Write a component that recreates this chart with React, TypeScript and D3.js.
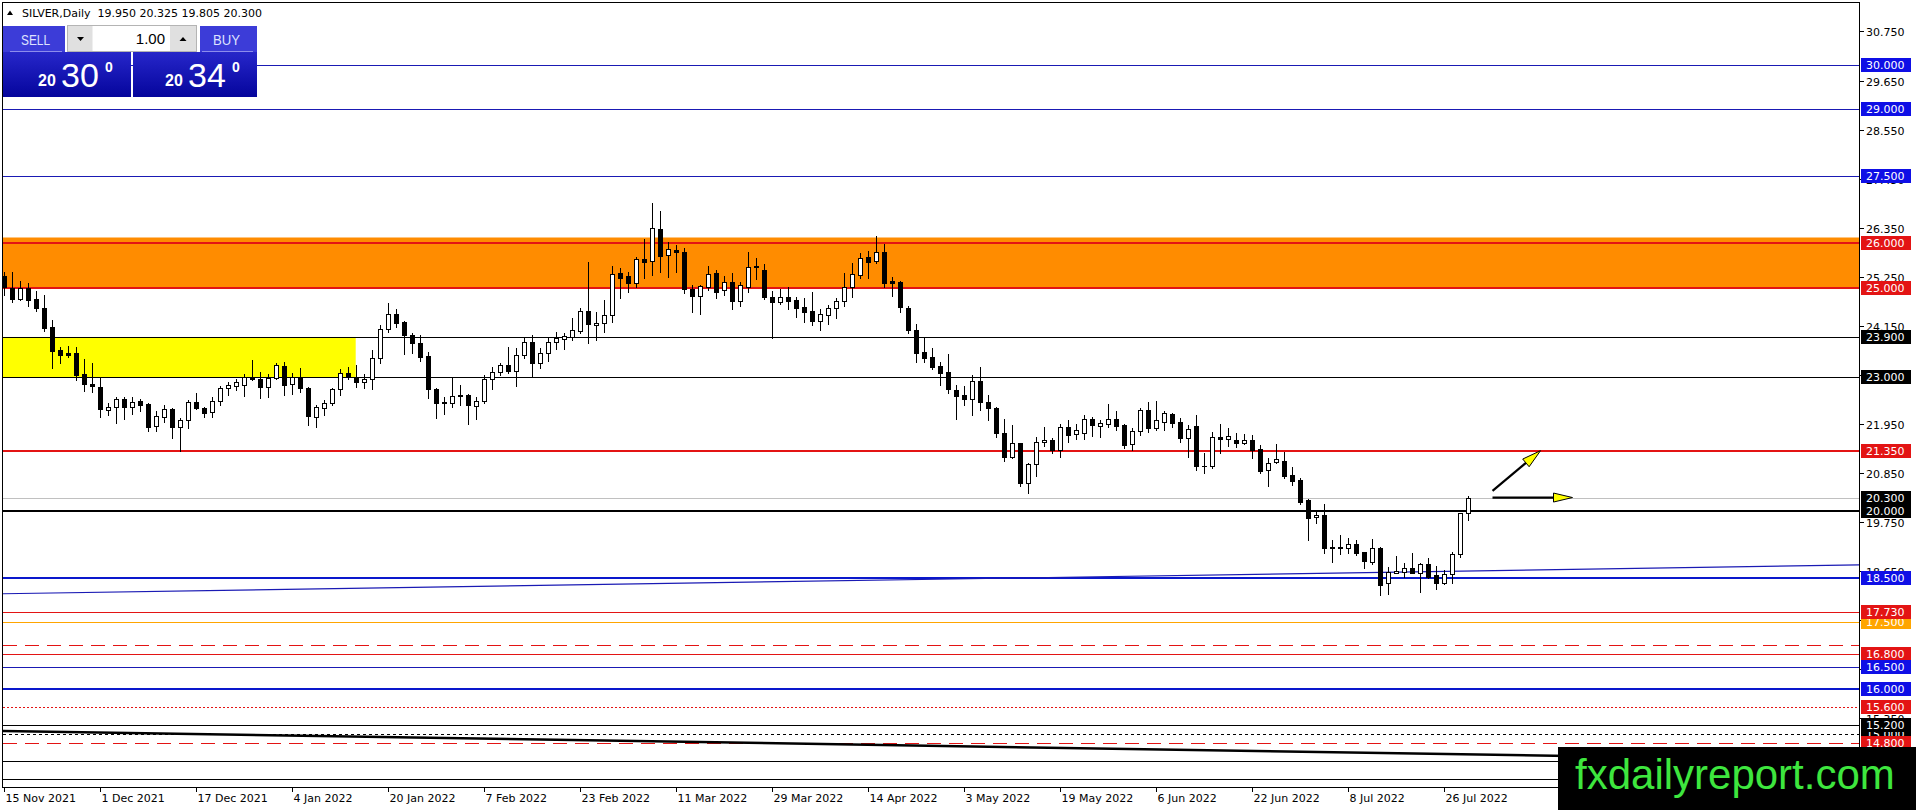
import React, { useEffect, useRef } from 'react';
import * as d3 from 'd3';

const symbol = 'SILVER,Daily';

const opens = [
  25.27, 25.0, 24.75, 25.0, 24.75, 24.55, 24.12, 23.6, 23.54, 23.54,
  23.07, 22.85, 22.78, 22.26, 22.33, 22.51, 22.33, 22.47, 22.4, 21.9,
  22.11, 22.29, 21.88, 22.04, 22.44, 22.31, 22.22, 22.47, 22.76, 22.8,
  22.83, 22.98, 22.96, 22.78, 22.98, 23.25, 22.85, 22.98, 22.76, 22.11,
  22.31, 22.42, 22.74, 23.09, 23.0, 22.89, 22.96, 23.43, 24.08, 24.42,
  24.24, 23.95, 23.77, 23.48, 22.74, 22.44, 22.42, 22.58, 22.6, 22.36,
  22.47, 22.96, 23.12, 23.27, 23.14, 23.5, 23.79, 23.32, 23.54, 23.79,
  23.86, 23.9, 24.04, 24.48, 24.16, 24.22, 24.4, 25.34, 25.27, 25.11,
  25.65, 25.6, 26.32, 25.74, 25.85, 25.81, 24.98, 24.82, 25.02, 25.34,
  24.96, 25.13, 24.71, 25.02, 25.49, 25.4, 24.8, 24.69, 24.8, 24.73,
  24.57, 24.48, 24.26, 24.4, 24.55, 24.71, 25.02, 25.29, 25.7, 25.6,
  25.81, 25.16, 25.13, 24.55, 24.06, 23.56, 23.45, 23.25, 23.12, 22.71,
  22.6, 22.51, 22.91, 22.44, 22.31, 21.75, 21.21, 21.52, 20.63, 21.05,
  21.55, 21.59, 21.37, 21.88, 21.73, 21.75, 22.06, 21.9, 21.95, 22.06,
  21.93, 21.5, 21.79, 22.26, 21.86, 22.0, 22.17, 22.0, 21.64, 21.9,
  21.01, 21.01, 21.66, 21.62, 21.6, 21.52, 21.6, 21.39, 20.92, 21.1,
  21.12, 20.81, 20.7, 20.25, 19.87, 19.91, 19.18, 19.18, 19.17, 19.26,
  19.08, 18.86, 19.17, 18.39, 18.6, 18.63, 18.72, 18.61, 18.81, 18.57,
  18.39, 18.59, 19.04, 19.95,
];

const highs = [
  25.36, 25.36, 25.16, 25.1, 24.93, 24.84, 24.28, 23.68, 23.7, 23.68,
  23.41, 23.32, 23.0, 22.42, 22.56, 22.56, 22.56, 22.51, 22.42, 22.24,
  22.38, 22.31, 22.09, 22.49, 22.65, 22.33, 22.56, 22.8, 22.89, 22.95,
  23.07, 23.39, 23.12, 23.07, 23.32, 23.34, 23.1, 23.21, 22.78, 22.38,
  22.49, 22.76, 23.18, 23.23, 23.27, 23.07, 23.61, 24.17, 24.66, 24.53,
  24.26, 23.99, 23.95, 23.56, 22.76, 22.56, 23.0, 22.83, 22.62, 22.56,
  23.05, 23.23, 23.32, 23.68, 23.65, 23.9, 23.95, 23.65, 23.88, 24.01,
  24.0, 24.33, 24.55, 25.58, 24.46, 24.73, 25.49, 25.45, 25.36, 25.7,
  26.1, 26.91, 26.73, 26.03, 25.96, 25.9, 25.07, 25.07, 25.49, 25.4,
  25.27, 25.34, 25.13, 25.81, 25.67, 25.54, 24.93, 24.98, 25.02, 24.8,
  24.78, 24.91, 24.53, 24.62, 24.78, 25.34, 25.56, 25.78, 25.83, 26.17,
  25.99, 25.25, 25.15, 24.6, 24.2, 23.9, 23.65, 23.34, 23.52, 22.83,
  22.8, 23.05, 23.23, 22.6, 22.33, 22.06, 21.93, 21.52, 21.08, 21.66,
  21.88, 21.64, 21.95, 22.04, 21.95, 22.15, 22.11, 22.04, 22.4, 22.24,
  21.95, 21.86, 22.31, 22.44, 22.47, 22.24, 22.2, 22.08, 21.93, 22.15,
  21.3, 21.77, 21.95, 21.85, 21.75, 21.72, 21.7, 21.48, 21.19, 21.5,
  21.32, 20.99, 20.74, 20.27, 19.98, 20.16, 19.35, 19.46, 19.39, 19.35,
  19.08, 19.37, 19.19, 18.74, 18.99, 18.83, 19.06, 18.83, 18.95, 18.77,
  18.68, 19.08, 19.96, 20.325,
];

const lows = [
  24.84, 24.69, 24.73, 24.6, 24.48, 24.04, 23.2, 23.32, 23.45, 22.94,
  22.69, 22.67, 22.1, 22.15, 21.97, 22.06, 22.17, 22.24, 21.79, 21.79,
  22.0, 21.64, 21.35, 21.86, 22.29, 22.11, 22.11, 22.38, 22.6, 22.7,
  22.58, 22.94, 22.53, 22.56, 22.96, 22.6, 22.62, 22.67, 21.93, 21.88,
  22.15, 22.38, 22.6, 22.96, 22.78, 22.76, 22.74, 23.32, 24.01, 24.12,
  23.52, 23.54, 23.36, 22.53, 22.08, 22.17, 22.33, 22.38, 21.95, 22.06,
  22.42, 22.74, 23.05, 23.09, 22.8, 23.43, 23.0, 23.2, 23.36, 23.63,
  23.63, 23.83, 23.99, 23.77, 23.83, 24.01, 24.24, 24.78, 24.91, 25.02,
  25.22, 25.29, 25.36, 25.25, 25.36, 24.89, 24.46, 24.42, 24.96, 24.78,
  24.84, 24.53, 24.6, 24.91, 25.2, 24.75, 23.88, 24.64, 24.53, 24.35,
  24.24, 24.17, 24.06, 24.19, 24.33, 24.6, 24.8, 25.22, 25.22, 25.56,
  25.02, 24.82, 24.45, 23.99, 23.34, 23.34, 23.18, 22.83, 22.65, 22.06,
  22.38, 22.15, 22.26, 22.04, 21.66, 21.12, 21.19, 20.56, 20.4, 20.78,
  21.46, 21.3, 21.21, 21.55, 21.61, 21.61, 21.68, 21.66, 21.88, 21.82,
  21.41, 21.37, 21.7, 21.77, 21.82, 21.82, 21.88, 21.55, 21.21, 20.92,
  20.85, 20.96, 21.3, 21.45, 21.43, 21.5, 21.19, 20.85, 20.56, 21.08,
  20.74, 20.58, 20.16, 19.35, 19.73, 19.06, 18.86, 19.04, 19.06, 19.01,
  18.72, 18.81, 18.12, 18.14, 18.6, 18.52, 18.61, 18.18, 18.5, 18.25,
  18.36, 18.39, 18.97, 19.805,
];

const closes = [
  25.02, 24.75, 25.0, 24.73, 24.55, 24.1, 23.59, 23.5, 23.5, 23.05,
  22.85, 22.8, 22.29, 22.32, 22.51, 22.33, 22.44, 22.38, 21.88, 22.13,
  22.29, 21.88, 22.04, 22.44, 22.31, 22.2, 22.47, 22.76, 22.83, 22.89,
  23.0, 22.96, 22.78, 22.98, 23.27, 22.83, 23.0, 22.76, 22.13, 22.33,
  22.42, 22.74, 23.09, 23.02, 22.89, 22.96, 23.43, 24.08, 24.42, 24.22,
  23.95, 23.77, 23.45, 22.74, 22.42, 22.42, 22.58, 22.6, 22.38, 22.47,
  22.96, 23.12, 23.27, 23.14, 23.5, 23.79, 23.32, 23.54, 23.79, 23.88,
  23.92, 24.06, 24.48, 24.19, 24.21, 24.4, 25.31, 25.22, 25.11, 25.65,
  25.58, 26.35, 25.72, 25.87, 25.81, 24.98, 24.82, 25.04, 25.31, 24.91,
  25.13, 24.71, 25.07, 25.47, 25.47, 24.8, 24.69, 24.8, 24.71, 24.55,
  24.46, 24.26, 24.42, 24.55, 24.71, 25.02, 25.31, 25.67, 25.58, 25.81,
  25.11, 25.11, 24.57, 24.06, 23.54, 23.43, 23.23, 23.09, 22.74, 22.58,
  22.51, 22.91, 22.44, 22.31, 21.75, 21.21, 21.52, 20.63, 21.05, 21.55,
  21.59, 21.37, 21.88, 21.7, 21.82, 22.06, 21.93, 21.97, 22.06, 21.9,
  21.48, 21.79, 22.26, 21.86, 22.04, 22.2, 21.97, 21.64, 21.84, 21.01,
  21.0, 21.66, 21.62, 21.68, 21.52, 21.58, 21.37, 20.9, 21.08, 21.17,
  20.78, 20.67, 20.2, 19.84, 19.91, 19.17, 19.17, 19.17, 19.26, 19.06,
  18.88, 19.17, 18.34, 18.63, 18.66, 18.72, 18.61, 18.81, 18.52, 18.39,
  18.59, 19.04, 19.96, 20.3,
];

// bar index of each date label
const dateTickBars = [0, 12, 24, 36, 48, 60, 72, 84, 96, 108, 120, 132, 144, 156, 168, 180];
const dateLabels = [
  '15 Nov 2021', '1 Dec 2021', '17 Dec 2021', '4 Jan 2022', '20 Jan 2022', '7 Feb 2022',
  '23 Feb 2022', '11 Mar 2022', '29 Mar 2022', '14 Apr 2022', '3 May 2022', '19 May 2022',
  '6 Jun 2022', '22 Jun 2022', '8 Jul 2022', '26 Jul 2022',
];
const priceTicks = [30.75, 29.65, 28.55, 27.45, 26.35, 25.25, 24.15, 23.05, 21.95, 20.85, 19.75, 18.65, 17.55, 16.45, 15.35, 14.25];

// horizontal levels (order = drawing order of the price tags)
const levels = [30, 29, 27.5, 26, 25, 23.9, 23, 21.35, 20.3, 20, 18.5, 17.5, 17.73, 17, 16.8, 16.5, 16, 15.6, 15, 15.2, 14.8, 14.4, 14];
const orangeZone = [25, 26.13];
const yellowZone = [23, 23.9];
const yellowZoneEndBar = 43.9;
const blueTrend = [[-1, 18.14], [232, 18.79]];
const blackTrend = [[-1, 15.07], [232, 14.4]];
const upArrow = [[186, 20.45], [192, 21.35]];
const sideArrow = [[186, 20.3], [196, 20.3]];
const bid = 20.3;
const ask = 20.34;
const lots = 1.0;
const watermark = 'fxdailyreport.com';

const W = 1916;
const H = 810;
const AXIS_FONT = 'DejaVu Sans, Verdana, sans-serif';
const UI_FONT = 'Liberation Sans, Arial, sans-serif';
const BLUE = '#1a1ab4';
const BLUE_TAG = '#0f0fe6';
const RED = '#e31414';
const ORANGE = '#ffa500';

type LevelStyle = { stroke: string; w: number; dash?: string; tag: string | null };

function levelStyle(p: number): LevelStyle {
  switch (p) {
    case 30: case 29: case 27.5: case 16.5: return { stroke: BLUE, w: 1, tag: BLUE_TAG };
    case 26: case 25: case 21.35: return { stroke: RED, w: 2, tag: RED };
    case 20.3: return { stroke: '#c0c0c0', w: 1, tag: '#000' };
    case 20: return { stroke: '#000', w: 2, tag: '#000' };
    case 18.5: case 16: return { stroke: '#0a18cc', w: 2, tag: BLUE_TAG };
    case 17.73: case 16.8: return { stroke: RED, w: 1, tag: RED };
    case 17.5: return { stroke: ORANGE, w: 1, tag: ORANGE };
    case 17: return { stroke: RED, w: 1, dash: '14 8', tag: null };
    case 15.6: return { stroke: RED, w: 1, dash: '2 2', tag: RED };
    case 15: return { stroke: '#000', w: 1, dash: '3 3', tag: '#000' };
    case 14.8: return { stroke: RED, w: 1, dash: '14 8', tag: RED };
    default: return { stroke: '#000', w: 1, tag: '#000' };
  }
}

const crisp = (v: number, w: number) => (w % 2 === 1 ? Math.round(v) + 0.5 : Math.round(v));

const SilverChart: React.FC = () => {
  const ref = useRef<SVGSVGElement | null>(null);

  useEffect(() => {
    if (!ref.current) return;
    const svg = d3.select(ref.current);
    svg.selectAll('*').remove();

    const left = 2.5, top = 2.5, right = 1859.5, bottom = 787.5;
    const x = d3.scaleLinear().domain([0, 100]).range([4.5, 804.5]);
    const y = d3.scaleLinear().domain([13.81, 31.41]).range([787, 2]);

    const defs = svg.append('defs');
    defs.append('clipPath').attr('id', 'plotClip')
      .append('rect').attr('x', 3).attr('y', 3).attr('width', right - 3.5).attr('height', bottom - 3.5);
    const grad = defs.append('linearGradient').attr('id', 'panelGrad')
      .attr('x1', 0).attr('y1', 0).attr('x2', 0).attr('y2', 1);
    grad.append('stop').attr('offset', '0%').attr('stop-color', '#3a3ad8');
    grad.append('stop').attr('offset', '45%').attr('stop-color', '#2222c4');
    grad.append('stop').attr('offset', '100%').attr('stop-color', '#05059c');

    svg.append('rect').attr('width', W).attr('height', H).attr('fill', '#fff');

    const plot = svg.append('g').attr('clip-path', 'url(#plotClip)');

    // zones
    plot.append('rect')
      .attr('x', left).attr('width', right - left)
      .attr('y', y(orangeZone[1])).attr('height', y(orangeZone[0]) - y(orangeZone[1]))
      .attr('fill', '#ff8c00');
    plot.append('rect')
      .attr('x', left).attr('width', x(yellowZoneEndBar) - left)
      .attr('y', y(yellowZone[1])).attr('height', y(yellowZone[0]) - y(yellowZone[1]))
      .attr('fill', '#ffff00');

    // horizontal levels
    levels.forEach(p => {
      const s = levelStyle(p);
      const yy = crisp(y(p), s.w);
      plot.append('line')
        .attr('x1', left).attr('x2', right).attr('y1', yy).attr('y2', yy)
        .attr('stroke', s.stroke).attr('stroke-width', s.w)
        .attr('stroke-dasharray', s.dash ?? null)
        .attr('shape-rendering', 'crispEdges');
    });

    // trend lines
    const trend = d3.line<number[]>().x(d => x(d[0])).y(d => y(d[1]));
    plot.append('path').attr('d', trend(blueTrend)).attr('fill', 'none')
      .attr('stroke', '#1a1ab4').attr('stroke-width', 1.2);
    plot.append('path').attr('d', trend(blackTrend)).attr('fill', 'none')
      .attr('stroke', '#000').attr('stroke-width', 2.5);

    // candles
    const bars = d3.range(opens.length);
    const candles = plot.append('g');
    candles.selectAll('line.wick').data(bars).enter().append('line')
      .attr('class', 'wick')
      .attr('x1', i => x(i)).attr('x2', i => x(i))
      .attr('y1', i => Math.round(y(highs[i]))).attr('y2', i => Math.round(y(lows[i])) + 1)
      .attr('stroke', '#000').attr('stroke-width', 1)
      .attr('shape-rendering', 'crispEdges');
    candles.selectAll('rect.body').data(bars).enter().append('rect')
      .attr('class', 'body')
      .each(function (i) {
        const bull = closes[i] > opens[i];
        const t = Math.round(y(Math.max(opens[i], closes[i])));
        const b = Math.round(y(Math.min(opens[i], closes[i])));
        const r = d3.select(this);
        if (bull) {
          r.attr('x', x(i) - 2).attr('y', t + 0.5).attr('width', 4).attr('height', Math.max(1, b - t))
            .attr('fill', '#fff').attr('stroke', '#000').attr('stroke-width', 1);
        } else {
          r.attr('x', x(i) - 2.5).attr('y', t).attr('width', 5).attr('height', Math.max(1, b - t + 1))
            .attr('fill', '#000');
        }
      })
      .attr('shape-rendering', 'crispEdges');

    // arrows
    const drawArrow = (pts: number[][], headLen: number, headHalf: number) => {
      const x1 = x(pts[0][0]), y1 = y(pts[0][1]);
      const x2 = x(pts[1][0]), y2 = y(pts[1][1]);
      const len = Math.hypot(x2 - x1, y2 - y1);
      const ux = (x2 - x1) / len, uy = (y2 - y1) / len;
      const bx = x2 - ux * headLen, by = y2 - uy * headLen;
      plot.append('line').attr('x1', x1).attr('y1', y1).attr('x2', bx).attr('y2', by)
        .attr('stroke', '#000').attr('stroke-width', 2.2);
      plot.append('path')
        .attr('d', `M${x2},${y2}L${bx - uy * headHalf},${by + ux * headHalf}L${bx + uy * headHalf},${by - ux * headHalf}Z`)
        .attr('fill', '#ffff00').attr('stroke', '#000').attr('stroke-width', 1);
    };
    drawArrow(upArrow, 19, 5);
    drawArrow(sideArrow, 19, 4.5);

    // frame
    svg.append('rect').attr('x', left).attr('y', top).attr('width', right - left).attr('height', bottom - top)
      .attr('fill', 'none').attr('stroke', '#000').attr('stroke-width', 1)
      .attr('shape-rendering', 'crispEdges');

    // right price axis
    const axis = svg.append('g').attr('font-family', AXIS_FONT).attr('font-size', 11);
    priceTicks.forEach(p => {
      const yy = Math.round(y(p)) + 0.5;
      axis.append('line').attr('x1', right).attr('x2', right + 4).attr('y1', yy).attr('y2', yy)
        .attr('stroke', '#000').attr('shape-rendering', 'crispEdges');
      axis.append('text').attr('x', 1866).attr('y', yy + 4).attr('fill', '#000').text(p.toFixed(3));
    });
    levels.forEach(p => {
      const s = levelStyle(p);
      if (!s.tag) return;
      const yy = Math.round(y(p));
      axis.append('rect').attr('x', 1861).attr('y', yy - 7).attr('width', 50).attr('height', 14).attr('fill', s.tag);
      axis.append('text').attr('x', 1866).attr('y', yy + 4).attr('fill', '#fff').text(p.toFixed(3));
    });

    // date axis
    dateTickBars.forEach((b, k) => {
      const xx = x(b);
      axis.append('line').attr('x1', xx).attr('x2', xx).attr('y1', bottom).attr('y2', bottom + 4)
        .attr('stroke', '#000').attr('shape-rendering', 'crispEdges');
      axis.append('text').attr('x', xx + 1).attr('y', 802).attr('fill', '#000').text(dateLabels[k]);
    });

    // header
    const last = opens.length - 1;
    svg.append('path').attr('d', 'M7,15L10,10.5L13,15Z').attr('fill', '#000');
    svg.append('text').attr('x', 22).attr('y', 17)
      .attr('font-family', AXIS_FONT).attr('font-size', 11).attr('fill', '#000')
      .style('white-space', 'pre')
      .text(`${symbol}  ${[opens[last], highs[last], lows[last], closes[last]].map(v => v.toFixed(3)).join(' ')}`);

    // one-click trading panel
    const panel = svg.append('g').attr('font-family', UI_FONT);
    panel.append('path').attr('d', 'M3,26H65V52H131V97H3Z').attr('fill', 'url(#panelGrad)');
    panel.append('path').attr('d', 'M200,26H257V97H133V52H200Z').attr('fill', 'url(#panelGrad)');
    panel.append('rect').attr('x', 3).attr('y', 26).attr('width', 62).attr('height', 26).attr('fill', '#3c3cd8');
    panel.append('rect').attr('x', 200).attr('y', 26).attr('width', 57).attr('height', 26).attr('fill', '#3c3cd8');
    panel.append('line').attr('x1', 10).attr('x2', 62).attr('y1', 51.5).attr('y2', 51.5).attr('stroke', '#8c8cec');
    panel.append('line').attr('x1', 202).attr('x2', 253).attr('y1', 51.5).attr('y2', 51.5).attr('stroke', '#8c8cec');
    panel.append('text').attr('x', 21).attr('y', 45).attr('font-size', 15).attr('fill', '#dfe3ff')
      .attr('textLength', 29).attr('lengthAdjust', 'spacingAndGlyphs').text('SELL');
    panel.append('text').attr('x', 213).attr('y', 45).attr('font-size', 15).attr('fill', '#dfe3ff')
      .attr('textLength', 27).attr('lengthAdjust', 'spacingAndGlyphs').text('BUY');

    // spinner
    panel.append('rect').attr('x', 67.5).attr('y', 25.5).attr('width', 129).attr('height', 26)
      .attr('fill', '#efefef').attr('stroke', '#b4b4b4');
    panel.append('rect').attr('x', 68).attr('y', 26).attr('width', 24).attr('height', 25).attr('fill', '#e0e0e0');
    panel.append('rect').attr('x', 170).attr('y', 26).attr('width', 26).attr('height', 25).attr('fill', '#e0e0e0');
    panel.append('rect').attr('x', 93).attr('y', 26).attr('width', 77).attr('height', 25).attr('fill', '#fff');
    panel.append('path').attr('d', 'M77,37H84L80.5,41Z').attr('fill', '#000');
    panel.append('path').attr('d', 'M179.5,41H186.5L183,37Z').attr('fill', '#000');
    panel.append('text').attr('x', 165).attr('y', 44).attr('font-size', 15).attr('text-anchor', 'end')
      .attr('fill', '#000').text(lots.toFixed(2));

    // prices in the panel
    const quote = (v: number, x0: number) => {
      const s = v.toFixed(3);
      panel.append('text').attr('x', x0).attr('y', 86).attr('font-size', 16).attr('font-weight', 'bold')
        .attr('fill', '#fff').text(s.slice(0, 2));
      panel.append('text').attr('x', x0 + 23).attr('y', 87).attr('font-size', 34)
        .attr('fill', '#fff').text(s.slice(3, 5));
      panel.append('text').attr('x', x0 + 67).attr('y', 72).attr('font-size', 14).attr('font-weight', 'bold')
        .attr('fill', '#fff').text(s.slice(5, 6));
    };
    quote(bid, 38);
    quote(ask, 165);

    // watermark
    svg.append('rect').attr('x', 1558).attr('y', 747).attr('width', W - 1558).attr('height', H - 747).attr('fill', '#000');
    svg.append('text').attr('x', 1575).attr('y', 789).attr('font-family', UI_FONT).attr('font-size', 42)
      .attr('fill', '#3ee63e').text(watermark);
  }, []);

  return (
    <svg ref={ref} width={W} height={H} style={{ position: 'fixed', left: 0, top: 0, display: 'block' }}></svg>
  );
};

export default function App() {
  return <SilverChart />;
}
